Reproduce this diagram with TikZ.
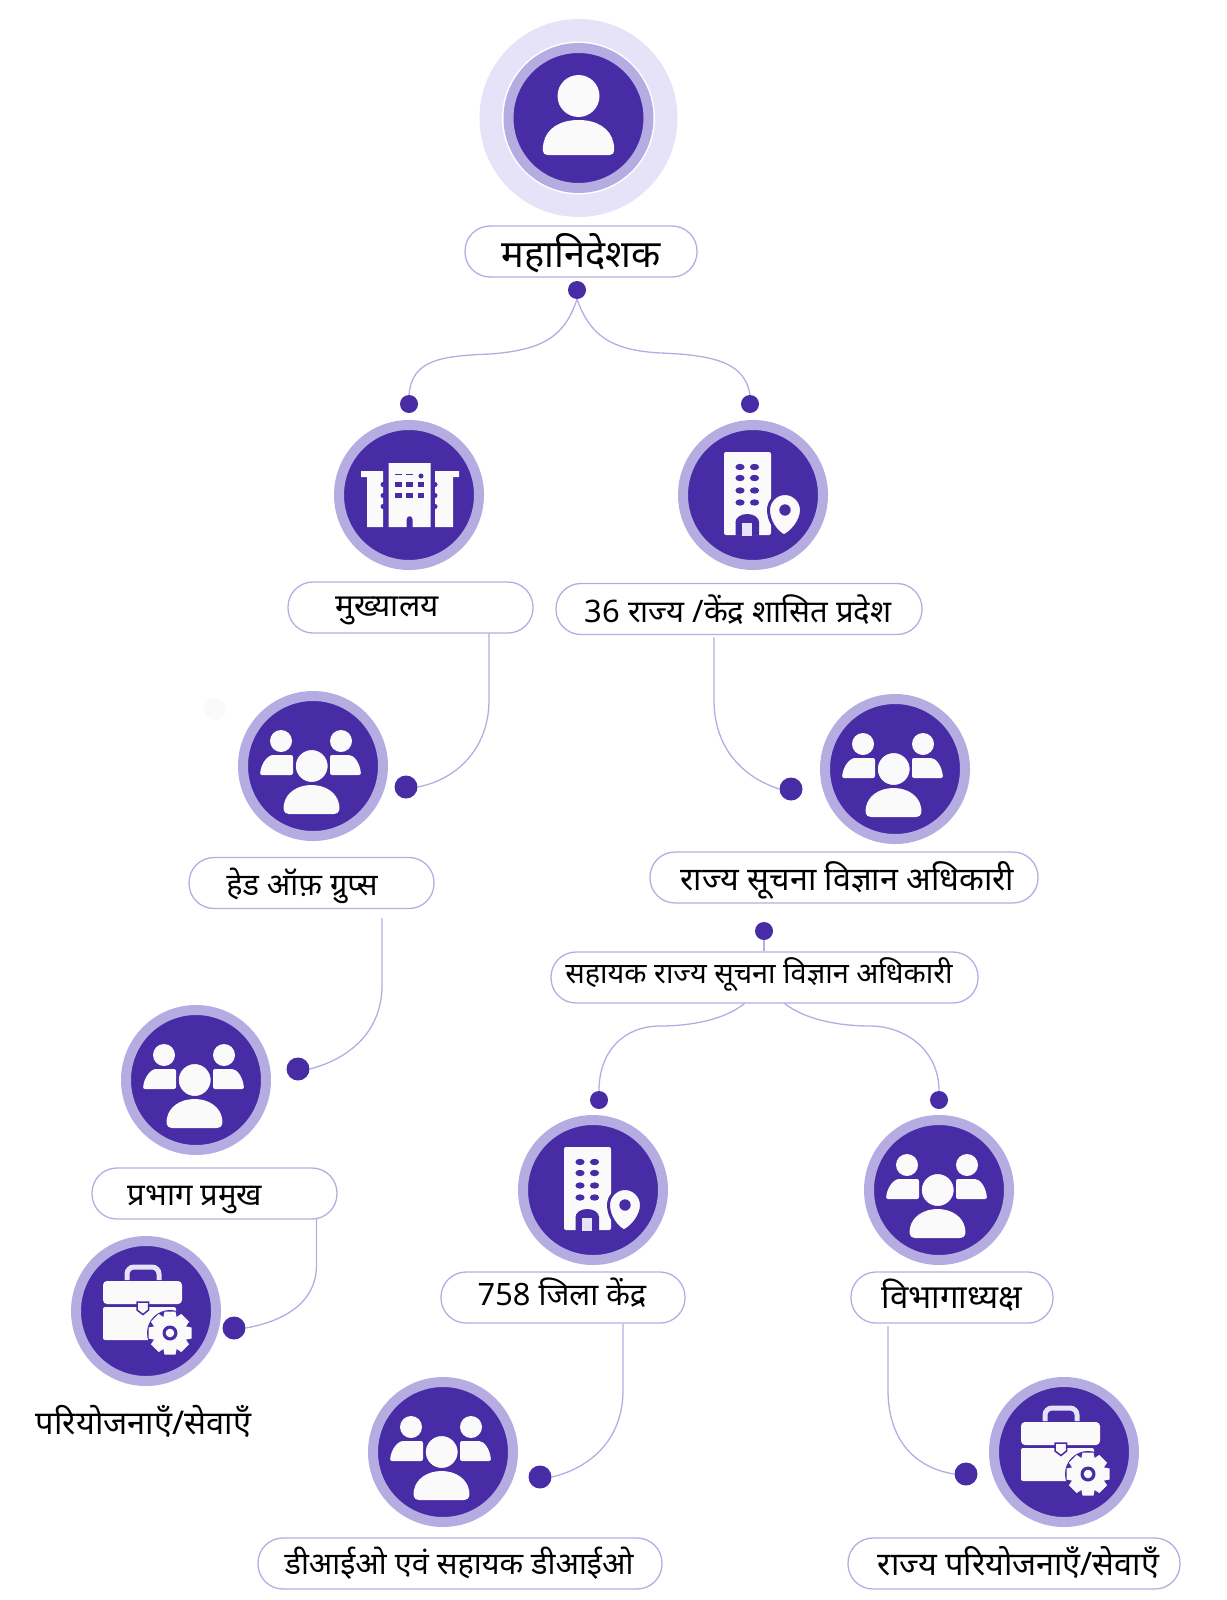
\documentclass[tikz,border=0pt]{standalone}
\usepackage{fontspec}
\usepackage{xcolor}
\newfontfamily\hindi[Script=Devanagari]{Noto Sans}
\definecolor{mainblue}{HTML}{472CA5}
\definecolor{ringblue}{HTML}{B5ACE2}
\definecolor{haloblue}{HTML}{E6E2F8}
\definecolor{iconwhite}{HTML}{FAFAFA}
\tikzset{
  badge/.style={circle,fill=mainblue,draw=ringblue,line width=10pt,inner sep=0pt,minimum size=140pt},
  pill/.style={rectangle,draw=ringblue,line width=1.3pt,rounded corners=25pt,inner sep=0pt,minimum height=51pt,minimum width=#1},
  dot/.style={circle,fill=mainblue,inner sep=0pt,minimum size=#1},
  dot/.default=18pt,
  txt/.style={inner sep=0pt,text=black,font=\hindi\fontsize{#1}{#1}\selectfont},
  txt/.default=31pt,
  link/.style={draw=ringblue,line width=1.3pt},
  pics/personicon/.style={code={
    \fill[iconwhite] (0,-22) circle (21);
    \fill[iconwhite] (-31,37) .. controls (-37,37) and (-36,30) .. (-35,25) .. controls (-32,10) and (-18,2) .. (0,2) .. controls (18,2) and (32,10) .. (35,25) .. controls (36,30) and (37,37) .. (31,37) -- cycle;
  }},
  pics/groupicon/.style={code={
    \fill[iconwhite] (-32,-25) circle (11);
    \fill[iconwhite] (28,-25) circle (11);
    \fill[iconwhite,rounded corners=2pt] (-53,9) .. controls (-52,-3) and (-45,-11) .. (-38,-11) -- (-20,-11) -- (-20,9) -- cycle;
    \fill[iconwhite,rounded corners=2pt] (48,9) .. controls (47,-3) and (41,-11) .. (34,-11) -- (17,-11) -- (17,9) -- cycle;
    \fill[iconwhite,draw=mainblue,line width=2pt] (-1.3,0) circle (17);
    \fill[iconwhite] (-24,48) .. controls (-30,48) and (-30,42) .. (-29,38) .. controls (-27,27) and (-16,19) .. (-1.5,19) .. controls (13,19) and (24,27) .. (26,38) .. controls (27,42) and (27,48) .. (21,48) -- cycle;
  }},
  pics/hqicon/.style={code={
    % wings and middle block
    \fill[iconwhite] (-48,-24) -- (-26,-24) -- (-26,32) -- (-42,32) -- (-42,-18) -- (-48,-18) -- cycle;
    \fill[iconwhite] (50,-24) -- (26,-24) -- (26,32) -- (44,32) -- (44,-18) -- (50,-18) -- cycle;
    \fill[iconwhite] (-20.5,-32) -- (21.5,-32) -- (21.5,32) -- (3.5,32) -- (3.5,24) arc (0:-180:2.9) -- (-2.3,32) -- (-20.5,32) -- cycle;
    \foreach \y in {-10.5,0.5,11.5} {
      \fill[mainblue] (-26,\y) circle (2.5);
      \fill[mainblue] (26,\y) circle (2.5);
    }
    \foreach \x in {-14,-3,8.7} \foreach \y in {-13,-2}
      \fill[mainblue] (\x,\y) rectangle ++(6.5,5);
    \fill[mainblue] (-14,-21.3) rectangle ++(6.5,.8);
    \fill[mainblue] (-3,-21.3) rectangle ++(6.5,.8);
    \fill[mainblue] (12,-19) circle (2.5);
  }},
  pics/towericon/.style={code={
    \fill[iconwhite,rounded corners=2pt] (-29,-43) -- (18,-43) -- (18,40) -- (-29,40) -- cycle;
    \foreach \x in {-13,1.5} \foreach \y in {-28,-17,-4.5,7.5}
      \fill[mainblue] (\x,\y) ellipse (4.6 and 3.2);
    \fill[mainblue] (-17.5,40.5) -- (-17.5,27) arc (180:360:11.75 and 8) -- (6,40.5) -- cycle;
    \fill[haloblue] (-11.5,28) rectangle (-1,40.5);
    \fill[iconwhite,draw=mainblue,line width=3pt] (31,41) .. controls (23,37) and (15.5,26) .. (15.5,15) .. controls (15.5,6) and (23,-1.5) .. (32,-1.5) .. controls (41,-1.5) and (48.5,6) .. (48.5,15) .. controls (48.5,26) and (39,37) .. (31,41) -- cycle;
    \fill[mainblue] (32,15) circle (5.7);
  }},
  pics/caseicon/.style={code={
    \draw[haloblue,line width=5pt,rounded corners=7pt] (-19,-31) -- (-19,-44) -- (13,-44) -- (13,-31);
    \fill[iconwhite,rounded corners=4pt] (-43,-7) -- (-43,-30) -- (36,-30) -- (36,-7) -- cycle;
    \fill[iconwhite,rounded corners=2pt] (-43,-4) rectangle (30,29);
    \fill[iconwhite,draw=mainblue,line width=1.5pt] (-9,-9) -- (2.5,-9) -- (2.5,-1) -- (-3,3.5) -- (-9,-1) -- cycle;
    % gear with a dark edge
    \fill[mainblue] (24,22) circle (23);
    \foreach \a in {0,45,...,315}
      \fill[iconwhite,rotate around={\a:(24,22)}] (18.5,0.5) -- (29.5,0.5) -- (31,8) -- (17,8) -- cycle;
    \fill[iconwhite] (24,22) circle (16.5);
    \fill[mainblue] (24,22) circle (7.5);
    \fill[iconwhite] (24,22) circle (4.3);
  }},
}
\begin{document}
\begin{tikzpicture}[x=1pt,y=-1pt]
\useasboundingbox (0,0) rectangle (1226,1600);

% top of the chart
\node[circle,fill=haloblue,inner sep=0pt,minimum size=198pt] (halo) at (578.5,118) {};
\node[circle,fill=white,inner sep=0pt,minimum size=153pt] (gap) at (halo) {};
\node[badge] (dg) at (halo) {};
\pic at (dg) {personicon};
\node[pill=232pt] (dgbox) at (581,251.5) {};
\node[txt=38pt] (dgtxt) at (581,253) {महानिदेशक};
\node[dot] (dgdot) at (577,290) {};

% headquarters and states
\node[dot] (hqdot) at (409,404) {};
\node[dot] (stdot) at (750,404) {};
\draw[link] (dgdot.south) .. controls (565,335) and (545,350) .. (490,354) .. controls (440,356) and (412,360) .. (hqdot.north);
\draw[link] (dgdot.south) .. controls (590,335) and (610,350) .. (660,353) .. controls (720,355) and (745,365) .. (stdot.north);
\node[badge] (hq) at (409,495) {};
\pic at (hq) {hqicon};
\node[badge] (st) at (753,495) {};
\pic at (st) {towericon};
\node[pill=245pt] (hqbox) at (410.5,607.5) {};
\node[txt=31.4pt] (hqtxt) at (387,611) {मुख्यालय};
\node[pill=366pt] (stbox) at (739,609) {};
\node[txt] (sttxt) at (738,610) {36 राज्य /केंद्र शासित प्रदेश};

% left column
\coordinate (hqout) at (489,633);
\node[dot=23pt] (hgdot) at (406,787) {};
\draw[link] (hqout) -- (489,700) .. controls (489,750) and (455,780) .. (hgdot.east);
\fill[black!2] (215,709) circle (11);
\node[badge] (hg) at (313,766) {};
\pic at (hg) {groupicon};
\node[pill=245pt] (hgbox) at (311.5,883) {};
\node[txt=30.7pt] (hgtxt) at (302,886) {हेड ऑफ़ ग्रुप्स};

\coordinate (hgout) at (382,918);
\node[dot=23pt] (dhdot) at (298,1069) {};
\draw[link] (hgout) -- (382,985) .. controls (382,1035) and (345,1060) .. (dhdot.east);
\node[badge] (dh) at (196,1080) {};
\pic at (dh) {groupicon};
\node[pill=245pt] (dhbox) at (214.5,1193.5) {};
\node[txt] (dhtxt) at (195,1200) {प्रभाग प्रमुख};

\coordinate (dhout) at (316.5,1219);
\node[dot=23pt] (pjdot) at (234,1328) {};
\draw[link] (dhout) -- (316.5,1265) .. controls (316.5,1305) and (280,1322) .. (pjdot.east);
\node[badge] (pj) at (146,1311) {};
\pic at (pj) {caseicon};
\node[txt=32.6pt] (pjtxt) at (143.5,1421) {परियोजनाएँ/सेवाएँ};

% state officers
\coordinate (stout) at (714,637);
\node[dot=23pt] (sidot) at (791,789) {};
\draw[link] (stout) -- (714,700) .. controls (714,750) and (745,778) .. (sidot.west);
\node[badge] (si) at (895,769) {};
\pic at (si) {groupicon};
\node[pill=388pt] (sibox) at (844,877.5) {};
\node[txt=32.3pt] (sitxt) at (847.5,880) {राज्य सूचना विज्ञान अधिकारी};
\node[dot] (asdot) at (764,931) {};
\node[pill=427pt] (asbox) at (764.5,977.5) {};
\node[txt=28.9pt] (astxt) at (759,975) {सहायक राज्य सूचना विज्ञान अधिकारी};
\draw[link] (asdot) -- (asdot |- asbox.north);

% districts and departments
\coordinate (asleft) at (745,1003);
\coordinate (asright) at (784,1003);
\node[dot] (dcdot) at (599,1100) {};
\node[dot] (dpdot) at (939,1100) {};
\draw[link] (asleft) .. controls (725,1020) and (690,1026) .. (660,1026) .. controls (625,1026) and (599,1050) .. (dcdot.north);
\draw[link] (asright) .. controls (805,1020) and (840,1026) .. (870,1026) .. controls (905,1026) and (939,1050) .. (dpdot.north);
\node[badge] (dc) at (593,1190) {};
\pic at (dc) {towericon};
\node[badge] (dp) at (939,1190) {};
\pic at (dp) {groupicon};
\node[pill=244pt] (dcbox) at (563,1297.5) {};
\node[txt=30.8pt] (dctxt) at (562,1293) {758 जिला केंद्र};
\node[pill=202pt] (dpbox) at (952,1297.5) {};
\node[txt=33pt] (dptxt) at (952,1295) {विभागाध्यक्ष};

% bottom row
\coordinate (dcout) at (623,1324);
\node[dot=23pt] (diodot) at (540,1477) {};
\draw[link] (dcout) -- (623,1390) .. controls (623,1440) and (590,1468) .. (diodot.east);
\node[badge] (dio) at (443,1452) {};
\pic at (dio) {groupicon};
\node[pill=404pt] (diobox) at (460,1563.5) {};
\node[txt=30.7pt] (diotxt) at (459,1563) {डीआईओ एवं सहायक डीआईओ};

\coordinate (dpout) at (888,1326);
\node[dot=23pt] (spdot) at (966,1474) {};
\draw[link] (dpout) -- (888,1390) .. controls (888,1440) and (915,1468) .. (spdot.west);
\node[badge] (sp) at (1064,1452) {};
\pic at (sp) {caseicon};
\node[pill=332pt] (spbox) at (1014,1563.5) {};
\node[txt=32.4pt] (sptxt) at (1018.5,1562) {राज्य परियोजनाएँ/सेवाएँ};
\end{tikzpicture}
\end{document}
